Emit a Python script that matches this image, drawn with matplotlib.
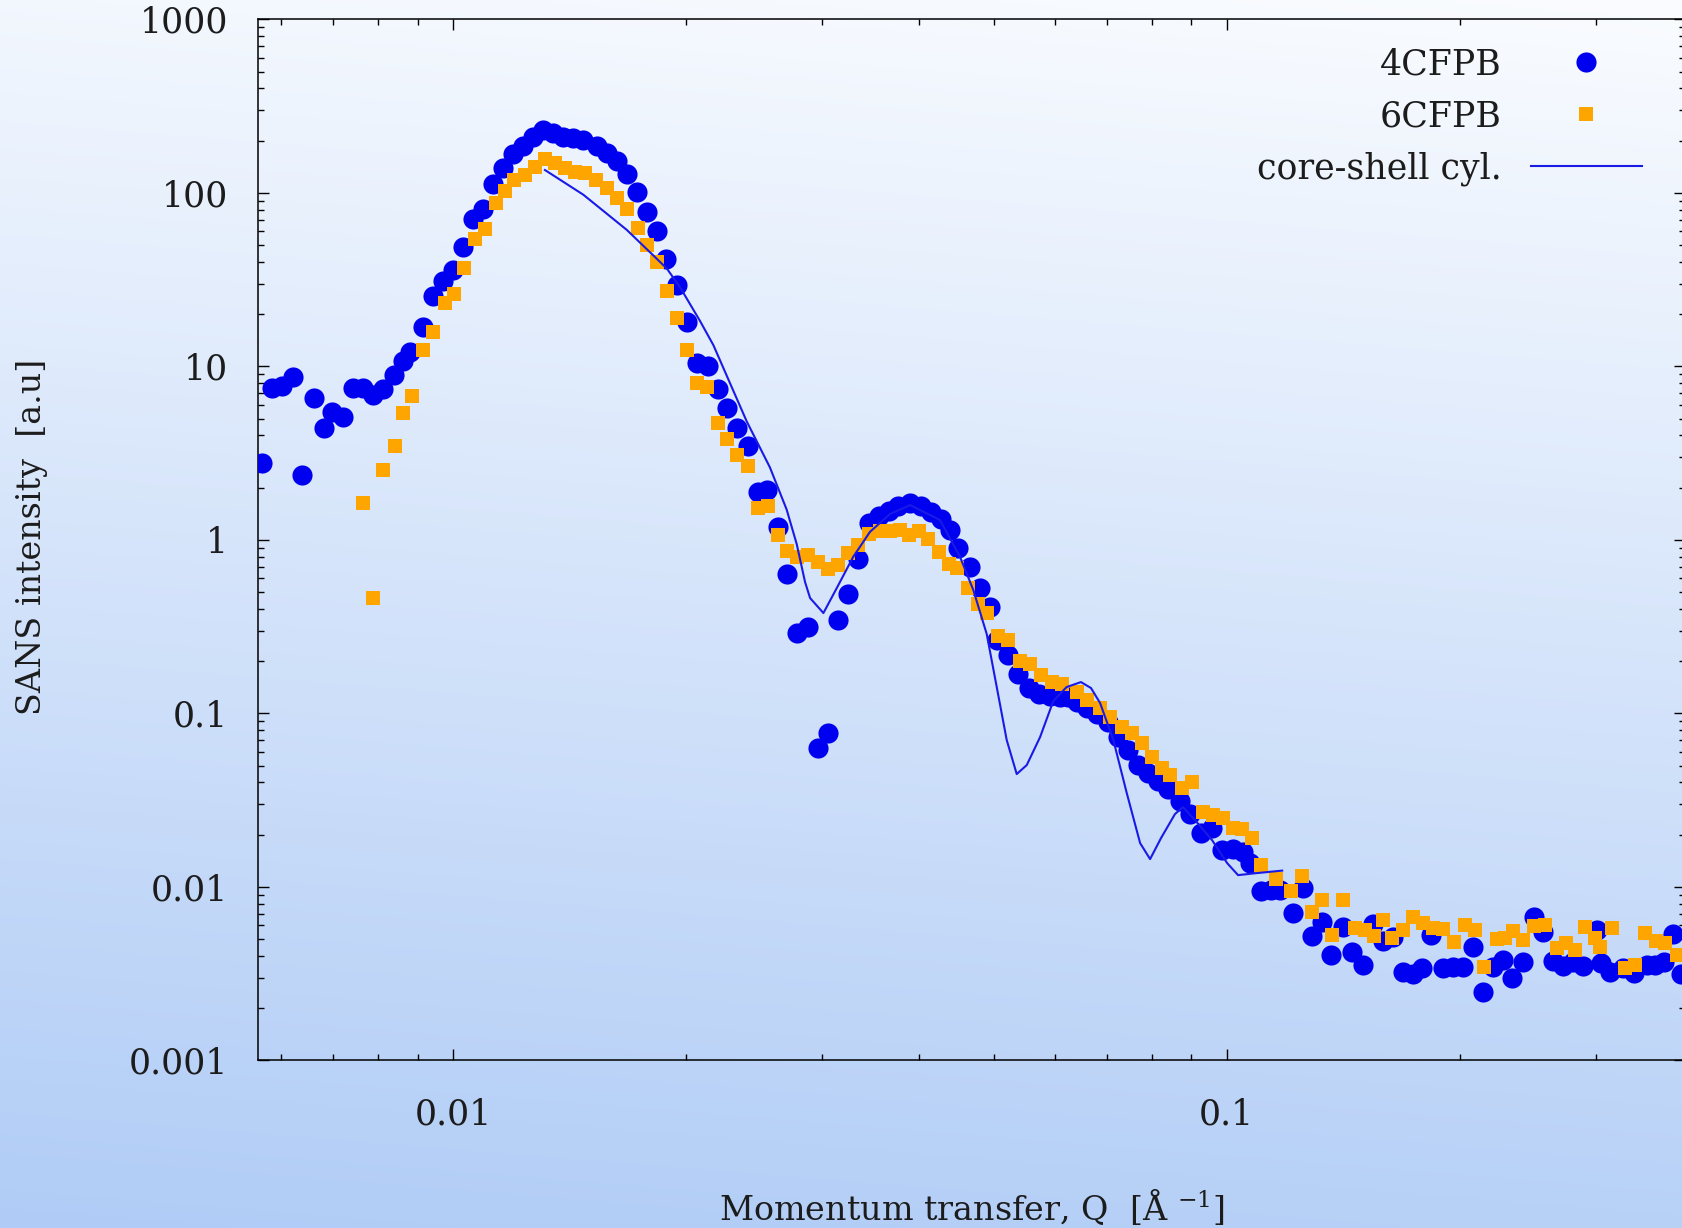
import numpy as np
import matplotlib
matplotlib.use("Agg")
import matplotlib.pyplot as plt
from matplotlib.ticker import FixedLocator, FixedFormatter, LogLocator, NullFormatter

plt.rcParams['font.family'] = ['DejaVu Serif']
plt.rcParams['mathtext.fontset'] = 'dejavuserif'

# ---- SANS data: 4CFPB ----
q_4cfpb = [0.005662, 0.005834, 0.006010, 0.006217, 0.006377, 0.006614, 0.006815, 0.006974, 0.007219, 0.007436,
           0.007660, 0.007891, 0.008116, 0.008401, 0.008628, 0.008803, 0.009141, 0.009417, 0.009719, 0.01001,
           0.01031, 0.01061, 0.01093, 0.01128, 0.01162, 0.01197, 0.01233, 0.01270, 0.01309, 0.01348,
           0.01389, 0.01431, 0.01474, 0.01534, 0.01580, 0.01628, 0.01677, 0.01728, 0.01780, 0.01834,
           0.01886, 0.01946, 0.02005, 0.02065,
           0.02138, 0.02203, 0.02258, 0.02326, 0.02408, 0.02480, 0.02548, 0.02627, 0.02699, 0.02781,
           0.02879, 0.02966, 0.03050, 0.03148, 0.03240, 0.03341, 0.03449, 0.03553, 0.03660, 0.03764,
           0.03897, 0.04026, 0.04148, 0.04273, 0.04389, 0.04498, 0.04653, 0.04798, 0.04943, 0.05047,
           0.05208, 0.05377, 0.05551, 0.05720, 0.05910, 0.06088, 0.06240, 0.06404, 0.06592, 0.06791,
           0.07013, 0.07235, 0.07460, 0.07686, 0.07918, 0.08156, 0.08402, 0.08701, 0.08963, 0.09261,
           0.09557, 0.09849, 0.1020, 0.1050, 0.1072, 0.1107, 0.1141, 0.1172, 0.1216, 0.1256,
           0.1287, 0.1327, 0.1364, 0.1411, 0.1450, 0.1501, 0.1547, 0.1593, 0.1641, 0.1687,
           0.1738, 0.1790, 0.1836, 0.1905, 0.1962, 0.2022, 0.2083, 0.2145, 0.2210, 0.2272,
           0.2335, 0.2411, 0.2495, 0.2564, 0.2642, 0.2722, 0.2802, 0.2889, 0.3006, 0.3045,
           0.3127, 0.3254, 0.3359, 0.3488, 0.3576, 0.3673, 0.3776, 0.3862]
i_4cfpb = [2.771, 7.54, 7.71, 8.67, 2.354, 6.56, 4.41, 5.44, 5.08, 7.54,
           7.54, 6.87, 7.36, 8.87, 10.7, 12.1, 16.8, 25.3, 31.2, 35.9,
           48.5, 70.4, 81.0, 113.1, 138.2, 166.4, 187.1, 210.3, 230.7, 220.2,
           210.3, 207.2, 200.7, 187.1, 170.5, 151.7, 128.9, 101.2, 78.0, 60.6,
           41.8, 29.3, 18.1, 10.4,
           10.04, 7.41, 5.74, 4.39, 3.46, 1.878, 1.926, 1.190, 0.6385, 0.2903,
           0.3145, 0.06285, 0.07696, 0.3436, 0.4903, 0.7732, 1.250, 1.372, 1.466, 1.566,
           1.630, 1.566, 1.456, 1.323, 1.134, 0.8969, 0.7017, 0.5275, 0.4126, 0.2645,
           0.2183, 0.1691, 0.1399, 0.1292, 0.1258, 0.1241, 0.1241, 0.1161, 0.1069, 0.09908,
           0.08944, 0.07298, 0.06145, 0.05035, 0.04510, 0.04073, 0.03663, 0.03124, 0.02628, 0.02056,
           0.02197, 0.01630, 0.01652, 0.01587, 0.01371, 0.009522, 0.009585, 0.009585, 0.007109, 0.009804,
           0.005239, 0.006292, 0.004044, 0.005888, 0.004224, 0.003541, 0.006105, 0.004871, 0.005157, 0.003239,
           0.003144, 0.003389, 0.005277, 0.003389, 0.003461, 0.003461, 0.004515, 0.002485, 0.003461, 0.003785,
           0.002969, 0.003701, 0.006725, 0.005526, 0.003735, 0.003517, 0.003687, 0.003494, 0.005636, 0.003624,
           0.003239, 0.003425, 0.003173, 0.003541, 0.003541, 0.003687, 0.005343, 0.003144]

# ---- SANS data: 6CFPB ----
q_6cfpb = [0.007660, 0.007891, 0.008130, 0.008418, 0.008628, 0.008861, 0.009158, 0.009434, 0.009768, 0.01004,
           0.01034, 0.01068, 0.01100, 0.01136, 0.01168, 0.01200, 0.01239, 0.01277, 0.01315, 0.01355,
           0.01396, 0.01438, 0.01481, 0.01531, 0.01580, 0.01628, 0.01677, 0.01733, 0.01780, 0.01834,
           0.01889, 0.01950, 0.02005, 0.02067, 0.02128, 0.02203, 0.02258, 0.02326, 0.02408, 0.02480,
           0.02555, 0.02627, 0.02699, 0.02787, 0.02879, 0.02966, 0.03048, 0.03141, 0.03235, 0.03341,
           0.03449, 0.03564, 0.03671, 0.03781, 0.03884, 0.04006, 0.04114, 0.04247, 0.04376, 0.04487,
           0.04634, 0.04774, 0.04900, 0.05067, 0.05220, 0.05404, 0.05567, 0.05756, 0.05939, 0.06118,
           0.06398, 0.06592, 0.06859, 0.07065, 0.07313, 0.07536, 0.07764, 0.07998, 0.08239, 0.08444,
           0.08745, 0.09009, 0.09317, 0.09598, 0.09888, 0.1019, 0.1046, 0.1078, 0.1107, 0.1158,
           0.1211, 0.1251, 0.1287, 0.1327, 0.1367, 0.1415, 0.1464, 0.1509, 0.1550, 0.1593,
           0.1637, 0.1691, 0.1742, 0.1795, 0.1849, 0.1905, 0.1966, 0.2032, 0.2093, 0.2150,
           0.2233, 0.2289, 0.2340, 0.2416, 0.2494, 0.2577, 0.2668, 0.2745, 0.2818, 0.2903,
           0.2991, 0.3036, 0.3144, 0.3270, 0.3369, 0.3470, 0.3587, 0.3684, 0.3815]
i_6cfpb = [1.621, 0.4613, 2.525, 3.495, 5.388, 6.707, 12.40, 15.87, 23.26, 26.11,
           37.01, 54.53, 62.11, 87.6, 102.1, 118.5, 127.2, 141.6, 156.8, 148.3,
           138.2, 132.0, 130.1, 118.5, 107.0, 93.1, 80.2, 62.7, 50.1, 39.7,
           27.35, 19.11, 12.35, 8.03, 7.60, 4.69, 3.825, 3.101, 2.664, 1.533,
           1.572, 1.070, 0.8617, 0.7963, 0.8150, 0.7499, 0.6834, 0.7158, 0.8347, 0.9284,
           1.080, 1.119, 1.124, 1.134, 1.070, 1.124, 1.011, 0.8551, 0.7301, 0.6925,
           0.5275, 0.4266, 0.3786, 0.2779, 0.2652, 0.1997, 0.1934, 0.1669, 0.1521, 0.1469,
           0.1332, 0.1193, 0.1069, 0.09559, 0.08374, 0.07666, 0.06715, 0.05622, 0.04819, 0.04410,
           0.03711, 0.04035, 0.02698, 0.02593, 0.02491, 0.02174, 0.02154, 0.01904, 0.01335, 0.01109,
           0.009458, 0.01149, 0.007185, 0.008449, 0.005277, 0.008449, 0.005765, 0.005636, 0.005239, 0.006435,
           0.005102, 0.005636, 0.006725, 0.006226, 0.005765, 0.005712, 0.004826, 0.006023, 0.005636, 0.003461,
           0.005002, 0.005102, 0.005563, 0.004936, 0.005943, 0.006023, 0.004468, 0.004723, 0.004323, 0.005888,
           0.005102, 0.004515, 0.005765, 0.003425, 0.003541, 0.005453, 0.004871, 0.004723, 0.004044]

# ---- core-shell cylinder model curve ----
q_fit = [0.01315, 0.01474, 0.01677, 0.01889, 0.01966, 0.02086, 0.02170, 0.02397, 0.02568, 0.02699,
         0.02781, 0.02851, 0.02894, 0.03011, 0.03133, 0.03291, 0.03459, 0.03671, 0.03897, 0.04260,
         0.04522, 0.04704, 0.04895, 0.05043, 0.05195, 0.05352, 0.05514, 0.05737, 0.05967, 0.06208,
         0.06479, 0.06676, 0.06859, 0.07135, 0.07425, 0.07726, 0.07959, 0.08222, 0.08570, 0.08776,
         0.09096, 0.09570, 0.1001, 0.1034, 0.1094, 0.1179]
i_fit = [135.3, 97.5, 61.2, 36.7, 28.5, 18.24, 13.27, 4.81, 2.615, 1.495,
         0.9458, 0.5712, 0.4620, 0.3786, 0.5275, 0.7994, 1.113, 1.408, 1.587, 1.300,
         0.7963, 0.5135, 0.2864, 0.1418, 0.07016, 0.04469, 0.05035, 0.07298, 0.1177, 0.1418,
         0.1515, 0.1399, 0.1147, 0.07016, 0.03473, 0.01788, 0.01446, 0.01911, 0.02628, 0.02884,
         0.02427, 0.01861, 0.01371, 0.01169, 0.01201, 0.01241]

# ---- axis ticks ----
y_ticks = [1e-3, 1e-2, 1e-1, 1, 10, 100, 1000]
y_labels = ['0.001', '0.01', '0.1', '1', '10', '100', '1000']
x_ticks = [0.01, 0.1]
x_labels = ['0.01', '0.1']

TEXT = '#1c1c1c'
W, H = 1683, 1228
fig = plt.figure(figsize=(W / 100, H / 100), dpi=100)

# soft white-to-blue backdrop
bg = fig.add_axes([0, 0, 1, 1], zorder=0)
yy, xx = np.mgrid[0:1:300j, 0:1:300j]
t = np.clip(0.9 * yy + 0.1 * (1 - xx), 0, 1)[..., None]
top = np.array([250, 252, 255]) / 255.0
bottom = np.array([176, 204, 246]) / 255.0
bg.imshow(top * (1 - t) + bottom * t, aspect='auto', extent=[0, 1, 0, 1],
          origin='upper', interpolation='bilinear')
bg.axis('off')

ax = fig.add_axes([0.15306, 0.13648, 0.84813, 0.84780], zorder=1)
ax.patch.set_alpha(0)

ax.plot(q_4cfpb, i_4cfpb, 'o', color='#0000f0', ms=14.5, mew=0, label='4CFPB', zorder=3)
ax.plot(q_6cfpb, i_6cfpb, 's', color='#ffa500', ms=10, mew=0, label='6CFPB', zorder=4)
ax.plot(q_fit, i_fit, '-', color='#1a1ae6', lw=1.5, label='core-shell cyl.', zorder=5)

ax.set_xscale('log')
ax.set_yscale('log')
ax.set_xlim(0.005592, 0.3909)
ax.set_ylim(1e-3, 1e3)

ax.yaxis.set_major_locator(FixedLocator(y_ticks))
ax.yaxis.set_major_formatter(FixedFormatter(y_labels))
ax.yaxis.set_minor_locator(LogLocator(base=10, subs=np.arange(2, 10)))
ax.yaxis.set_minor_formatter(NullFormatter())
ax.xaxis.set_major_locator(FixedLocator(x_ticks))
ax.xaxis.set_major_formatter(FixedFormatter(x_labels))
ax.xaxis.set_minor_locator(LogLocator(base=10, subs=np.arange(2, 10)))
ax.xaxis.set_minor_formatter(NullFormatter())

ax.tick_params(which='both', direction='in', top=True, right=True, color='black',
               labelcolor=TEXT, labelsize=25)
ax.tick_params(which='major', length=8, width=1.0)
ax.tick_params(which='minor', length=4, width=1.0)
ax.tick_params(axis='y', which='major', pad=21)
ax.tick_params(axis='x', which='major', pad=27)
for s in ax.spines.values():
    s.set_linewidth(1.1)
    s.set_color('black')

ax.set_xlabel('Momentum transfer, Q  [Å $^{-1}$]', fontsize=24, color=TEXT)
ax.xaxis.set_label_coords(0.5, -0.1408)
ax.xaxis.label.set_va('center')
ax.set_ylabel('SANS intensity  [a.u]', fontsize=24, color=TEXT)
ax.yaxis.set_label_coords(-0.1583, 0.5027)
ax.yaxis.label.set_va('center')

leg = ax.legend(loc='upper right', bbox_to_anchor=(0.9698, 0.973), frameon=False,
                markerfirst=False, fontsize=25, borderpad=0, borderaxespad=0,
                handlelength=3.2, handletextpad=0.85, labelspacing=0.52, numpoints=1)
for txt in leg.get_texts():
    txt.set_color(TEXT)

fig.savefig('out.png', dpi=100)
